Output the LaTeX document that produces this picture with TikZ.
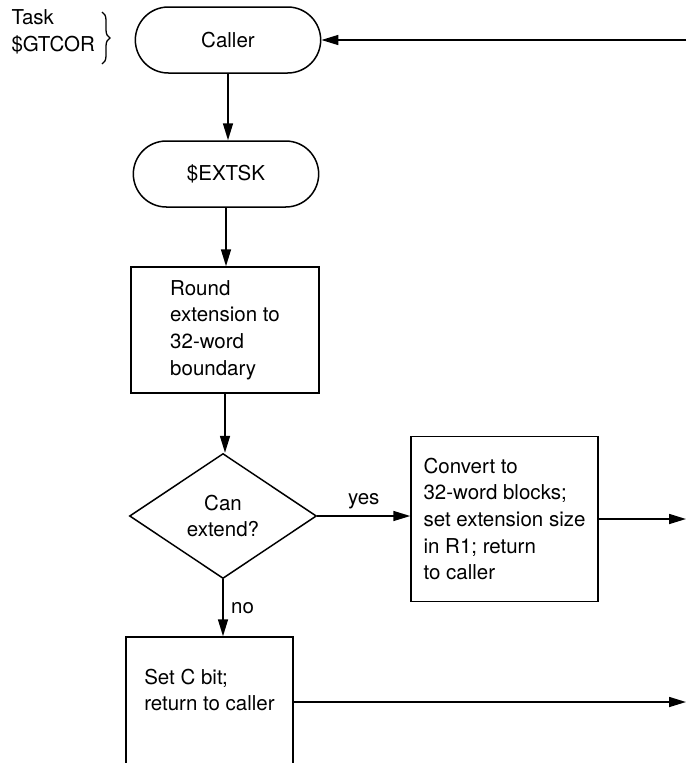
\documentclass[tikz,border=0pt]{standalone}
\usepackage{fontspec}
\setmainfont{TeX Gyre Heros}
\usetikzlibrary{shapes.geometric, shapes.misc, arrows.meta, decorations.pathreplacing}

\tikzset{
  flow/.style={line width=1.6pt, -{Triangle[length=17pt, width=10pt]}},
  term/.style={draw, line width=1.5pt, rounded rectangle, minimum width=192pt, minimum height=66pt},
  proc/.style={draw, line width=1.5pt, rectangle, align=left, inner sep=0pt},
  decide/.style={draw, line width=1.5pt, diamond, align=center, inner sep=0pt,
    minimum width=187pt, minimum height=125pt}
}

\begin{document}
\begin{tikzpicture}[x=1pt, y=-1pt, font=\fontsize{20.5}{26.7}\selectfont]

  \useasboundingbox (0,0) rectangle (686,763);
  \clip (0,0) rectangle (686,763);

  \node[anchor=north west, align=left] (task) at (8,6) {Task\\\$GTCOR};
  \draw[line width=1.3pt, decorate, decoration={brace, amplitude=8pt}] (102,12) -- (102,64);

  \node[term] (caller) at (228,40) {Caller};
  \node[term] (extsk) at (226,174) {\$EXTSK};
  \node[proc, minimum width=188pt, minimum height=126pt] (round) at (225,330)
    {Round\\extension to\\32-word\\boundary};
  \node[decide] (can) at (223,516) {Can\\extend?};
  \node[proc, minimum width=187pt, minimum height=165pt] (conv) at (504.5,519)
    {Convert to\\32-word blocks;\\set extension size\\in R1; return\\to caller};
  \node[proc, minimum width=167pt, minimum height=130pt] (setc) at (209.5,702) {};
  \node[align=left] (setctext) at (209.5,690) {Set C bit;\\return to caller};

  \coordinate (back) at (686,40);
  \coordinate (edge) at (686,0);

  \draw[flow] (back) -- (caller.east);
  \draw[flow] (caller.south) -- (caller.south |- extsk.north);
  \draw[flow] (extsk.south) -- (extsk.south |- round.north);
  \draw[flow] (round.south) -- (round.south |- can.north);
  \draw[flow] (can.east) -- node[above=3pt] (yes) {yes} (can.east -| conv.west);
  \draw[flow] (can.south) -- node[right=4pt] (no) {no} (can.south |- setc.north);
  \draw[flow] (conv.east) -- (conv.east -| edge);
  \draw[flow] (setc.east) -- (setc.east -| edge);

\end{tikzpicture}
\end{document}
